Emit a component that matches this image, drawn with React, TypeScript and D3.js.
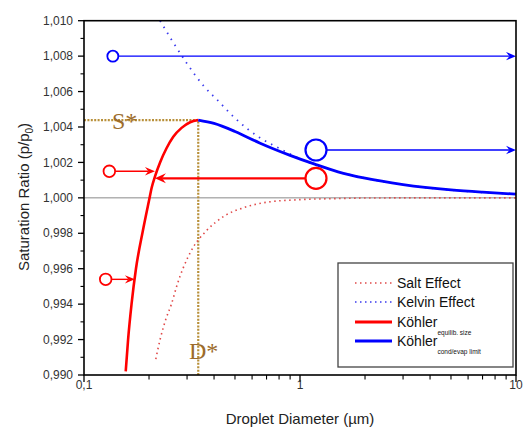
import React from 'react';
import * as d3 from 'd3';

// Köhler curve pieces: diameter (µm) and saturation ratio
const saltD = [0.215, 0.225, 0.24, 0.254, 0.27, 0.287, 0.32, 0.366, 0.45, 0.55, 0.7, 1, 1.5, 2, 4, 10];
const saltS = [0.9909, 0.992, 0.9932, 0.994, 0.9951, 0.996, 0.9972, 0.9981, 0.999, 0.99945, 0.99975, 0.9999, 0.99996, 0.99999, 1.0, 1.0];

const kelvinD = [0.225, 0.255, 0.299, 0.359, 0.416, 0.5, 0.65, 0.8, 1, 1.5, 2, 3, 5, 10];
const kelvinS = [1.01, 1.0089, 1.0076, 1.0063, 1.0055, 1.0045, 1.0034, 1.0028, 1.0022, 1.00148, 1.00111, 1.00074, 1.00044, 1.00022];

const kohlerRedD = [0.156, 0.16, 0.166, 0.174, 0.187, 0.2, 0.206, 0.213, 0.225, 0.241, 0.259, 0.283, 0.31, 0.338];
const kohlerRedS = [0.9902, 0.992, 0.994, 0.996, 0.9981, 0.99985, 1.0006, 1.0012, 1.002, 1.0028, 1.00345, 1.00395, 1.00427, 1.00439];

const kohlerBlueD = [0.338, 0.4, 0.5, 0.65, 0.9, 1.17, 1.5, 2, 3, 5, 7, 10];
const kohlerBlueS = [1.00439, 1.0042, 1.00375, 1.0031, 1.0024, 1.0019, 1.00147, 1.00111, 1.00075, 1.00045, 1.00032, 1.00021];

const peakD = 0.338;
const peakS = 1.00439;

// annotation arrows: start (circle) diameter, tip diameter, level
const arrowFromD = [0.136, 1.186, 1.186, 0.131, 0.126];
const arrowToD = [10, 10, 0.213, 0.213, 0.172];
const arrowS = [1.008, 1.0027, 1.0011, 1.0015, 0.9954];

const yTicks = [0.99, 0.992, 0.994, 0.996, 0.998, 1.0, 1.002, 1.004, 1.006, 1.008, 1.01];
const yTickLabels = ['0,990', '0,992', '0,994', '0,996', '0,998', '1,000', '1,002', '1,004', '1,006', '1,008', '1,010'];
const xTicks = [0.1, 1, 10];
const xTickLabels = ['0,1', '1', '10'];

const legendLabels = ['Salt Effect', 'Kelvin Effect', 'Köhler', 'Köhler'];
const legendSubs = ['', '', 'equilib. size', 'cond/evap limit'];

const W = 523, H = 430;
const left = 84, right = 516, top = 20.7, bottom = 375;
const RED = '#ff0000', BLUE = '#0000ff', BROWN = '#9c6c2c';
const font = 'Arial, "Liberation Sans", sans-serif';
const serif = '"Liberation Serif", "DejaVu Serif", serif';

export default function App() {
    const x = d3.scaleLog().domain([0.1, 10]).range([left, right]);
    const y = d3.scaleLinear().domain([0.99, 1.01]).range([bottom, top]);

    const line = d3.line<[number, number]>()
        .x(d => x(d[0]))
        .y(d => y(d[1]))
        .curve(d3.curveMonotoneX);
    const zip = (a: number[], b: number[]) => a.map((v, i) => [v, b[i]] as [number, number]);

    const yMinor = d3.range(0.991, 1.01, 0.002);
    const xMinor = [2, 3, 4, 5, 6, 7, 8, 9, 20, 30, 40, 50, 60, 70, 80, 90].map(v => v / 10);

    // arrowhead with notch, tip at (xt, yt), dir +1 = points right
    const head = (xt: number, yt: number, dir: number, L: number, Wd: number) =>
        `M${xt},${yt} L${xt - dir * L},${yt - Wd} L${xt - dir * L * 0.65},${yt} L${xt - dir * L},${yt + Wd} Z`;

    const arrowColor = [BLUE, BLUE, RED, RED, RED];
    const arrowR = [5.5, 10.5, 10.5, 5.8, 5.8];
    const arrowW = [1.4, 1.4, 2.4, 1.4, 1.4];

    const px = x(peakD), py = y(peakS);

    const legX = 338, legY = 263;
    const legRows = [283, 302, 322, 341];
    const legStyles = [
        { stroke: '#e04848', width: 1.6, dash: '1.5 3.5' },
        { stroke: '#3a3aee', width: 1.6, dash: '1.5 3.5' },
        { stroke: RED, width: 3, dash: null },
        { stroke: BLUE, width: 3, dash: null },
    ];

    return (
        <svg width={W} height={H} style={{ position: 'absolute', left: 0, top: 0, background: '#fff' }}
            fontFamily={font}>
            {/* 1.000 reference line */}
            <line x1={left} x2={right} y1={y(1)} y2={y(1)} stroke="#8a8a8a" strokeWidth={1} />

            {/* S* and D* guides */}
            <path d={`M${left},${py} H${px} V${bottom}`} fill="none" stroke="#b8903a" strokeWidth={2.2} strokeDasharray="2 1.4" />

            {/* curves */}
            <path d={line(zip(saltD, saltS)) || ''} fill="none" stroke="#e04848" strokeWidth={1.6} strokeDasharray="1.5 3.5" />
            <path d={line(zip(kelvinD, kelvinS)) || ''} fill="none" stroke="#3a3aee" strokeWidth={1.8} strokeDasharray="1.5 5.5" />
            <path d={line(zip(kohlerRedD, kohlerRedS)) || ''} fill="none" stroke={RED} strokeWidth={2.6} />
            <path d={line(zip(kohlerBlueD, kohlerBlueS)) || ''} fill="none" stroke={BLUE} strokeWidth={2.8} />

            {/* arrows */}
            {arrowS.map((s, i) => {
                const x0 = x(arrowFromD[i]), x1 = x(arrowToD[i]), yy = y(s);
                const dir = x1 > x0 ? 1 : -1;
                const L = i === 2 ? 11 : 10, hw = i === 2 ? 5 : 4.2;
                return (
                    <g key={i}>
                        <circle cx={x0} cy={yy} r={arrowR[i]} fill="none" stroke={arrowColor[i]} strokeWidth={i === 1 || i === 2 ? 2.2 : 1.8} />
                        <line x1={x0 + dir * arrowR[i]} x2={x1 - dir * L * 0.65} y1={yy} y2={yy}
                            stroke={arrowColor[i]} strokeWidth={arrowW[i]} />
                        <path d={head(x1, yy, dir, L, hw)} fill={arrowColor[i]} />
                    </g>
                );
            })}

            {/* S*, D* labels */}
            <text x={112} y={129} fontFamily={serif} fontSize={24} fill={BROWN}>S*</text>
            <text x={189} y={359} fontFamily={serif} fontSize={24} fill={BROWN}>D*</text>

            {/* frame */}
            <rect x={left} y={top} width={right - left} height={bottom - top} fill="none" stroke="#000" strokeWidth={1.6} />

            {/* y axis ticks */}
            {yTicks.map((t, i) => (
                <g key={'y' + i}>
                    <line x1={left - 6} x2={left} y1={y(t)} y2={y(t)} stroke="#000" strokeWidth={1.3} />
                    <text x={left - 11} y={y(t)} dy="0.35em" textAnchor="end" fontSize={12} fill="#333">{yTickLabels[i]}</text>
                </g>
            ))}
            {yMinor.map((t, i) => (
                <line key={'ym' + i} x1={left - 3.5} x2={left} y1={y(t)} y2={y(t)} stroke="#000" strokeWidth={1.1} />
            ))}

            {/* x axis ticks */}
            {xTicks.map((t, i) => (
                <g key={'x' + i}>
                    <line x1={x(t)} x2={x(t)} y1={bottom} y2={bottom + 7} stroke="#000" strokeWidth={1.3} />
                    <text x={x(t)} y={389} textAnchor="middle" fontSize={12} fill="#333">{xTickLabels[i]}</text>
                </g>
            ))}
            {xMinor.map((t, i) => (
                <line key={'xm' + i} x1={x(t)} x2={x(t)} y1={bottom} y2={bottom + 4.5} stroke="#000" strokeWidth={1.1} />
            ))}

            {/* axis titles */}
            <text x={300} y={424} textAnchor="middle" fontSize={15} fill="#222">Droplet Diameter (µm)</text>
            <text transform={`translate(29,197) rotate(-90)`} textAnchor="middle" fontSize={15} fill="#222">
                Saturation Ratio (p/p<tspan fontSize={10} dy={4}>0</tspan><tspan dy={-4}>)</tspan>
            </text>

            {/* legend */}
            <rect x={legX} y={legY} width={513 - legX} height={367 - legY} fill="#fff" stroke="#444" strokeWidth={1.3} />
            {legendLabels.map((lab, i) => (
                <g key={'l' + i}>
                    <line x1={355} x2={392} y1={legRows[i]} y2={legRows[i]} stroke={legStyles[i].stroke}
                        strokeWidth={legStyles[i].width} strokeDasharray={legStyles[i].dash || undefined} />
                    <text x={397} y={legRows[i]} dy="0.36em" fontSize={14} fill="#111">
                        {lab}
                        {legendSubs[i] && <tspan fontSize={6.5} dy={8}>{legendSubs[i]}</tspan>}
                    </text>
                </g>
            ))}
        </svg>
    );
}
